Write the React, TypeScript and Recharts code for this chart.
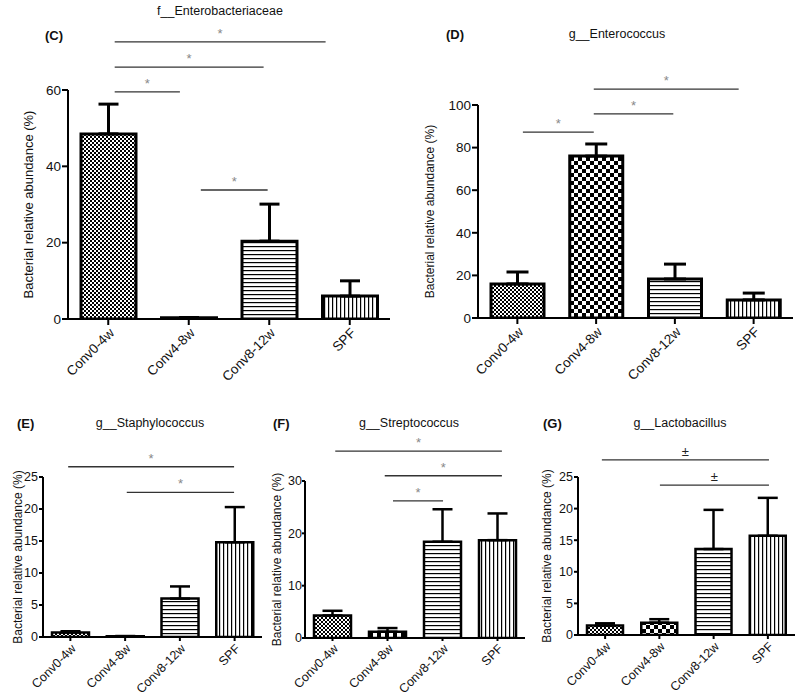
import React from 'react';
import { BarChart, Bar, XAxis, YAxis, ErrorBar, Cell, ReferenceLine } from 'recharts';

const groups = ['Conv0-4w', 'Conv4-8w', 'Conv8-12w', 'SPF'];

// (C) f__Enterobacteriaceae
const enteroMean = [48.5, 0.3, 20.4, 6.0];
const enteroSd = [7.8, 0.1, 9.7, 4.0];
const enteroTicks = [0, 20, 40, 60];
const enteroSig = [
  { from: 0.08, to: 2.7, y: 72.6, mark: '*' },
  { from: 0.08, to: 1.93, y: 66.0, mark: '*' },
  { from: 0.08, to: 0.89, y: 59.5, mark: '*' },
  { from: 1.15, to: 1.98, y: 33.8, mark: '*' },
];

// (D) g__Enterococcus
const enterococcusMean = [16.0, 76.0, 18.3, 8.5];
const enterococcusSd = [5.6, 5.7, 7.0, 3.2];
const enterococcusTicks = [0, 20, 40, 60, 80, 100];
const enterococcusSig = [
  { from: 0.07, to: 0.97, y: 87.3, mark: '*' },
  { from: 0.97, to: 1.98, y: 95.8, mark: '*' },
  { from: 0.97, to: 2.81, y: 107.5, mark: '*' },
];

// (E) g__Staphylococcus
const staphMean = [0.7, 0.1, 6.0, 14.8];
const staphSd = [0.2, 0.05, 1.9, 5.5];
const staphTicks = [0, 5, 10, 15, 20, 25];
const staphSig = [
  { from: -0.04, to: 2.99, y: 26.6, mark: '*' },
  { from: 1.03, to: 2.99, y: 22.6, mark: '*' },
];

// (F) g__Streptococcus
const streptoMean = [4.3, 1.2, 18.4, 18.7];
const streptoSd = [0.9, 0.7, 6.2, 5.1];
const streptoTicks = [0, 10, 20, 30];
const streptoSig = [
  { from: 0.05, to: 3.08, y: 35.7, mark: '*' },
  { from: 0.95, to: 3.08, y: 31.0, mark: '*' },
  { from: 1.1, to: 2.01, y: 26.2, mark: '*' },
];

// (G) g__Lactobacillus
const lactoMean = [1.5, 1.95, 13.6, 15.7];
const lactoSd = [0.35, 0.55, 6.2, 6.0];
const lactoTicks = [0, 5, 10, 15, 20, 25];
const lactoSig = [
  { from: -0.06, to: 3.02, y: 27.7, mark: '±' },
  { from: 1.01, to: 3.02, y: 23.7, mark: '±' },
];

const fills = ['fine', 'coarse', 'hline', 'vline'];
const font = "'Liberation Sans', Arial, sans-serif";

type Sig = { from: number; to: number; y: number; mark: string };
type PanelProps = {
  id: string;
  letter: string;
  title: string;
  mean: number[];
  sd: number[];
  ticks: number[];
  sig: Sig[];
  plot: { x0: number; x1: number; y0: number; y1: number };
  labelX: number;
  labelSize: number;
  tickSize: number;
  tickFont: number;
  yTickMargin: number;
  titleX: number;
  titleY: number;
  letterX: number;
  letterY: number;
  barSize: number;
  stroke: number;
  cap: number;
};

const Patterns = ({ id }: { id: string }) => (
  <defs>
    <pattern id={`${id}-fine`} width={4} height={4} patternUnits="userSpaceOnUse">
      <rect width={4} height={4} fill="#fff" />
      <rect width={2} height={2} fill="#000" />
      <rect x={2} y={2} width={2} height={2} fill="#000" />
    </pattern>
    <pattern id={`${id}-coarse`} width={8} height={8} patternUnits="userSpaceOnUse">
      <rect width={8} height={8} fill="#fff" />
      <rect width={4} height={4} fill="#000" />
      <rect x={4} y={4} width={4} height={4} fill="#000" />
    </pattern>
    <pattern id={`${id}-hline`} width={4} height={4} patternUnits="userSpaceOnUse">
      <rect width={4} height={4} fill="#fff" />
      <rect width={4} height={1.2} fill="#000" />
    </pattern>
    <pattern id={`${id}-vline`} width={4} height={4} patternUnits="userSpaceOnUse">
      <rect width={4} height={4} fill="#fff" />
      <rect width={1.2} height={4} fill="#000" />
    </pattern>
  </defs>
);

function Panel(p: PanelProps) {
  const data = groups.map((g, i) => ({ group: g, mean: p.mean[i], sd: p.sd[i] }));
  const left = p.plot.x0 - 60;
  const top = p.plot.y0 - 100;
  const width = p.plot.x1 - p.plot.x0 + 66;
  const height = p.plot.y1 - p.plot.y0 + 175;
  const yMax = p.ticks[p.ticks.length - 1];
  const axisStyle = { stroke: '#000', strokeWidth: 2 };
  const lx = p.labelX - left;
  const ly = 100 + (p.plot.y1 - p.plot.y0) / 2;

  return (
    <>
      <div style={{ position: 'absolute', left, top }}>
        <BarChart width={width} height={height} data={data} margin={{ top: 100, right: 6, bottom: 15, left: 20 }}>
          <Patterns id={p.id} />
          <XAxis
            dataKey="group"
            height={60}
            interval={0}
            angle={-45}
            textAnchor="end"
            tickSize={p.tickSize}
            tickMargin={2}
            axisLine={axisStyle}
            tickLine={axisStyle}
            tick={{ fill: '#111', fontSize: p.tickFont }}
          />
          {/* hidden position axis for the significance bars: group index -> band centre */}
          <XAxis
            xAxisId="ann"
            type="number"
            dataKey={(d: any) => groups.indexOf(d.group)}
            domain={[-0.5, 3.5]}
            allowDataOverflow
            hide
          />
          <YAxis
            domain={[0, yMax]}
            ticks={p.ticks}
            interval={0}
            width={40}
            tickSize={p.tickSize}
            tickMargin={p.yTickMargin}
            allowDataOverflow
            axisLine={axisStyle}
            tickLine={axisStyle}
            tick={{ fill: '#111', fontSize: p.tickFont }}
            label={() => (
              <text
                x={lx}
                y={ly}
                transform={`rotate(-90, ${lx}, ${ly})`}
                textAnchor="middle"
                dominantBaseline="central"
                fontSize={p.labelSize}
                fill="#111"
              >
                Bacterial relative abundance (%)
              </text>
            )}
          />
          <Bar dataKey="mean" barSize={p.barSize} stroke="#000" strokeWidth={p.stroke} isAnimationActive={false}>
            {data.map((d, i) => (
              <Cell key={d.group} fill={`url(#${p.id}-${fills[i]})`} />
            ))}
            <ErrorBar
              dataKey={(d: any) => [0, d.sd]}
              direction="y"
              width={p.cap}
              stroke="#000"
              strokeWidth={p.stroke}
              isAnimationActive={false}
            />
          </Bar>
          {p.sig.map((s, i) => (
            <ReferenceLine
              key={i}
              xAxisId="ann"
              segment={[{ x: s.from, y: s.y }, { x: s.to, y: s.y }]}
              stroke="#333"
              strokeWidth={1.3}
              ifOverflow="visible"
              label={{ value: s.mark, position: 'top', offset: 4, fill: s.mark === '*' ? '#888' : '#222', fontSize: 13 }}
            />
          ))}
        </BarChart>
      </div>
      <div style={{ position: 'absolute', left: p.letterX, top: p.letterY, transform: 'translateY(-50%)', fontWeight: 'bold', fontSize: 13, lineHeight: 1 }}>
        {p.letter}
      </div>
      <div style={{ position: 'absolute', left: p.titleX, top: p.titleY, transform: 'translate(-50%, -50%)', fontSize: 12.5, lineHeight: 1, whiteSpace: 'nowrap' }}>
        {p.title}
      </div>
    </>
  );
}

export default function App() {
  return (
    <div style={{ position: 'absolute', left: 0, top: 0, width: 800, height: 699, background: '#fff', fontFamily: font, color: '#111', overflow: 'hidden' }}>
      <Panel
        id="c" letter="(C)" title="f__Enterobacteriaceae"
        mean={enteroMean} sd={enteroSd} ticks={enteroTicks} sig={enteroSig}
        plot={{ x0: 68, x1: 390, y0: 90, y1: 319 }}
        labelX={28} labelSize={13} tickSize={6} tickFont={13.5} yTickMargin={1}
        titleX={220} titleY={11} letterX={45} letterY={35}
        barSize={55} stroke={3} cap={10}
      />
      <Panel
        id="d" letter="(D)" title="g__Enterococcus"
        mean={enterococcusMean} sd={enterococcusSd} ticks={enterococcusTicks} sig={enterococcusSig}
        plot={{ x0: 478, x1: 793, y0: 105, y1: 318 }}
        labelX={430} labelSize={12} tickSize={6} tickFont={13.5} yTickMargin={1}
        titleX={617} titleY={34} letterX={446} letterY={34}
        barSize={53} stroke={3} cap={11}
      />
      <Panel
        id="e" letter="(E)" title="g__Staphylococcus"
        mean={staphMean} sd={staphSd} ticks={staphTicks} sig={staphSig}
        plot={{ x0: 43, x1: 262, y0: 477, y1: 637 }}
        labelX={18} labelSize={12} tickSize={4} tickFont={12.5} yTickMargin={1}
        titleX={150} titleY={423} letterX={17} letterY={423}
        barSize={37} stroke={2.5} cap={10}
      />
      <Panel
        id="f" letter="(F)" title="g__Streptococcus"
        mean={streptoMean} sd={streptoSd} ticks={streptoTicks} sig={streptoSig}
        plot={{ x0: 305, x1: 525, y0: 481, y1: 638 }}
        labelX={277} labelSize={12} tickSize={3} tickFont={12.5} yTickMargin={0}
        titleX={409} titleY={423} letterX={273} letterY={423}
        barSize={37} stroke={2.5} cap={10}
      />
      <Panel
        id="g" letter="(G)" title="g__Lactobacillus"
        mean={lactoMean} sd={lactoSd} ticks={lactoTicks} sig={lactoSig}
        plot={{ x0: 578, x1: 795, y0: 477, y1: 635 }}
        labelX={547} labelSize={12} tickSize={4} tickFont={12.5} yTickMargin={1}
        titleX={680} titleY={423} letterX={543} letterY={423}
        barSize={36} stroke={2.5} cap={10}
      />
    </div>
  );
}
